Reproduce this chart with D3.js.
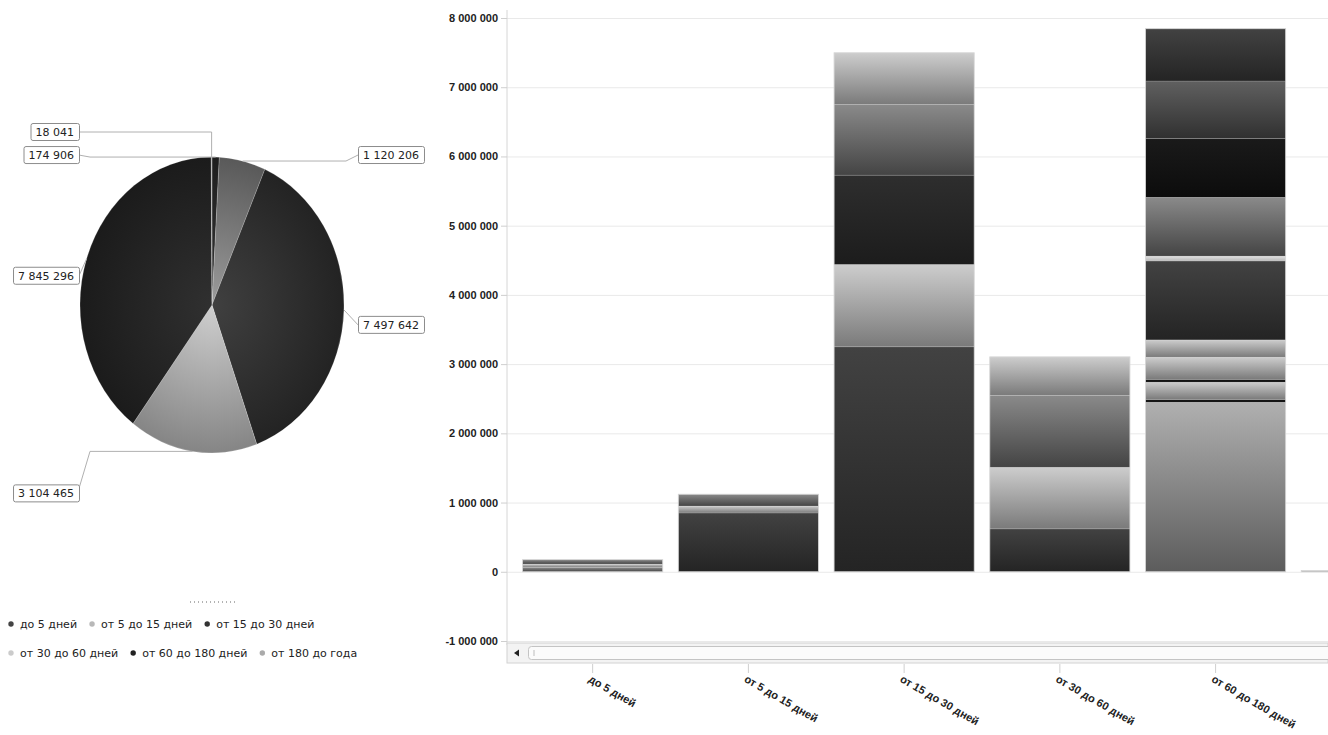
<!DOCTYPE html>
<html>
<head>
<meta charset="utf-8">
<script src="https://cdn.jsdelivr.net/npm/d3@7"></script>
<style>
  body { margin: 0; background: #fff; }
  svg { display: block; font-family: "DejaVu Sans", sans-serif; }
</style>
</head>
<body>
<svg id="chart" width="1328" height="735"></svg>
<script>
const categories = ['до 5 дней', 'от 5 до 15 дней', 'от 15 до 30 дней', 'от 30 до 60 дней', 'от 60 до 180 дней', 'от 180 до года'];
const totals = [174906, 1120206, 7497642, 3104465, 7845296, 18041];

// stacked parts of every bar, bottom to top
const barParts = [
    [62000, 50000, 62906],
    [850000, 100000, 170206],
    [3250000, 1190000, 1290000, 1020000, 747642],
    [620000, 890000, 1040000, 554465],
    [2450000, 40000, 250000, 40000, 320000, 250000, 1140000, 70000, 850000, 850000, 830000, 755296],
    [18041]
];

const yTicks = [-1000000, 0, 1000000, 2000000, 3000000, 4000000, 5000000, 6000000, 7000000, 8000000];

// shade of every part (style only)
const partTones = [
    ['mid', 'light', 'mid'],
    ['dark', 'light', 'mid'],
    ['dark', 'light', 'deep', 'mid', 'light'],
    ['dark', 'light', 'mid', 'light'],
    ['base', 'black', 'light', 'black', 'light', 'light', 'dark', 'pale', 'mid', 'black', 'mid2', 'dark'],
    ['light']
];
const tones = {
    black: ['#1a1a1a', '#0c0c0c'],
    deep: ['#2e2e2e', '#1c1c1c'],
    dark: ['#424242', '#242424'],
    mid: ['#8a8a8a', '#444'],
    mid2: ['#606060', '#303030'],
    light: ['#cdcdcd', '#7a7a7a'],
    pale: ['#e0e0e0', '#b8b8b8'],
    base: ['#b0b0b0', '#5c5c5c']
};
const sliceTones = [
    ['#353535', '#1e1e1e'],
    ['#9c9c9c', '#595959'],
    ['#404040', '#232323'],
    ['#cfcfcf', '#858585'],
    ['#303030', '#1b1b1b'],
    ['#bbbbbb', '#999999']
];
const legendColors = ['#444', '#b8b8b8', '#333', '#cbcbcb', '#222', '#aaa'];

const svg = d3.select('#chart');
const defs = svg.append('defs');

const ru = d3.formatLocale({ decimal: ',', thousands: '\u00a0', grouping: [3], currency: ['', ''], minus: '-' });
const fmt = ru.format(',d');

// ---------- bar chart ----------
const plotLeft = 507, plotRight = 1328;

const y = d3.scaleLinear()
    .domain([-1000000, 8000000])
    .range([641, 18]);

const x = d3.scaleBand()
    .domain(categories)
    .range([plotLeft, plotLeft + 950])
    .paddingInner(0.1)
    .paddingOuter(0.1);

// grid
svg.append('g')
    .attr('transform', `translate(${plotLeft},0)`)
    .call(d3.axisLeft(y).tickValues(yTicks).tickSize(-(plotRight - plotLeft)).tickFormat(''))
    .call(g => g.select('.domain').remove())
    .call(g => g.selectAll('line').attr('stroke', '#e9e9e9'));

// y axis
svg.append('g')
    .attr('transform', `translate(${plotLeft},0)`)
    .call(d3.axisLeft(y).tickValues(yTicks).tickSize(6).tickPadding(3).tickFormat(fmt))
    .call(g => g.select('.domain').attr('stroke', '#d6d6d6').attr('d', `M0,10V645`))
    .call(g => g.selectAll('line').attr('stroke', '#cfcfcf'))
    .call(g => g.selectAll('text').attr('fill', '#222').attr('font-size', 11).attr('font-weight', 'bold'));

Object.entries(tones).forEach(([k, c]) => {
    const lg = defs.append('linearGradient').attr('id', 'tone-' + k)
        .attr('x1', 0).attr('y1', 0).attr('x2', 0).attr('y2', 1);
    lg.append('stop').attr('offset', '0%').attr('stop-color', c[0]);
    lg.append('stop').attr('offset', '100%').attr('stop-color', c[1]);
});

const bars = svg.append('g');
categories.forEach((cat, i) => {
    const ends = d3.cumsum(barParts[i]);
    const g = bars.append('g');
    g.selectAll('rect')
        .data(barParts[i].map((v, j) => ({ v, top: ends[j], tone: partTones[i][j] })))
        .enter()
        .append('rect')
        .attr('x', x(cat))
        .attr('width', x.bandwidth())
        .attr('y', d => y(d.top))
        .attr('height', d => Math.max(y(d.top - d.v) - y(d.top), 0.8))
        .attr('fill', d => `url(#tone-${d.tone})`)
        .attr('stroke', 'rgba(255,255,255,0.25)')
        .attr('stroke-width', 0.6);
    g.append('rect')
        .attr('x', x(cat))
        .attr('width', x.bandwidth())
        .attr('y', y(totals[i]))
        .attr('height', y(0) - y(totals[i]))
        .attr('fill', 'none')
        .attr('stroke', '#d4d4d4')
        .attr('stroke-width', 0.8);
});

// scrollbar
const sb = svg.append('g');
sb.append('rect').attr('x', plotLeft).attr('y', 643).attr('width', plotRight - plotLeft).attr('height', 20)
    .attr('fill', '#f3f3f3').attr('stroke', '#d2d2d2');
sb.append('path').attr('d', 'M514,653 L519,649.5 L519,656.5 Z').attr('fill', '#222');
sb.append('rect').attr('x', 528.5).attr('y', 646.5).attr('width', 810).attr('height', 13).attr('rx', 3)
    .attr('fill', '#fbfbfb').attr('stroke', '#c4c4c4');
sb.append('line').attr('x1', 534).attr('x2', 534).attr('y1', 650).attr('y2', 656).attr('stroke', '#bdbdbd');

// x axis (only the ticks that fall inside the visible window)
const visibleCats = categories.filter(c => x(c) + x.bandwidth() / 2 < plotRight);
svg.append('g')
    .attr('transform', 'translate(0,664)')
    .call(d3.axisBottom(x).tickValues(visibleCats).tickSize(9).tickSizeOuter(0))
    .call(g => g.select('.domain').remove())
    .call(g => g.selectAll('line').attr('stroke', '#cfcfcf'))
    .call(g => g.selectAll('text')
        .attr('fill', '#222')
        .attr('font-size', 11)
        .attr('font-weight', 'bold')
        .attr('text-anchor', 'start')
        .attr('x', 0).attr('y', 0).attr('dy', '0.35em')
        .attr('transform', 'translate(-3,14) rotate(30)'));

// ---------- pie ----------
const cx = 212, cy = 305, rx = 132, ry = 148;

const pie = d3.pie().sort(null).value(d => d);
const arcs = pie(totals);
const arc = d3.arc().innerRadius(0).outerRadius(rx);

sliceTones.forEach((c, i) => {
    const rg = defs.append('radialGradient').attr('id', 'slice-' + i)
        .attr('gradientUnits', 'userSpaceOnUse')
        .attr('cx', 0).attr('cy', 0).attr('r', rx);
    rg.append('stop').attr('offset', '0%').attr('stop-color', c[0]);
    rg.append('stop').attr('offset', '100%').attr('stop-color', c[1]);
});

svg.append('g')
    .attr('transform', `translate(${cx},${cy}) scale(1,${ry / rx})`)
    .selectAll('path')
    .data(arcs)
    .enter()
    .append('path')
    .attr('d', arc)
    .attr('fill', (d, i) => `url(#slice-${i})`)
    .attr('stroke', 'rgba(255,255,255,0.35)')
    .attr('stroke-width', 0.5);

// labels: side, vertical shift of the box, elbow kind
const labelLayout = [
    { side: 'left', dy: -2, elbow: 'h' },
    { side: 'right', dy: -6, elbow: 'h' },
    { side: 'right', dy: 15, elbow: 'd' },
    { side: 'left', dy: 42, elbow: 'h' },
    { side: 'left', dy: 17, elbow: 'd' },
    { side: 'left', dy: -25, elbow: 'v' }
];

const labels = svg.append('g').attr('font-size', 11);
arcs.forEach((a, i) => {
    const m = (a.startAngle + a.endAngle) / 2;
    const ax = cx + rx * Math.sin(m), ay = cy - ry * Math.cos(m);
    const L = labelLayout[i];
    const by = ay + L.dy;
    const txt = fmt(a.data);
    const t = labels.append('text').attr('y', by).attr('dy', '0.35em').attr('fill', '#222').text(txt);
    const w = t.node().getComputedTextLength() + 10;
    const bx = L.side === 'right' ? cx + rx + 14 : cx - rx - 1 - w;
    t.attr('x', bx + 5);
    const edge = L.side === 'right' ? bx : bx + w;
    let pts;
    if (L.elbow === 'v') pts = [[ax, ay], [ax, by], [edge, by]];
    else if (L.elbow === 'h') {
        const ex = L.side === 'right' ? edge - 12 : edge + 11;
        pts = [[ax, ay], [ex, ay], [edge, by + (L.dy > 20 ? -5 : 0)]];
    } else pts = [[ax, ay], [edge, by]];
    labels.insert('path', 'text')
        .attr('d', d3.line()(pts))
        .attr('fill', 'none')
        .attr('stroke', '#b0b0b0')
        .attr('stroke-width', 1);
    labels.insert('rect', 'text')
        .attr('x', bx + 0.5).attr('y', by - 8.5)
        .attr('width', w).attr('height', 17).attr('rx', 2)
        .attr('fill', '#fff').attr('stroke', '#8c8c8c');
});

// ---------- legend ----------
const legend = svg.append('g').attr('font-size', 11).attr('fill', '#222');
legend.append('line').attr('x1', 190).attr('x2', 235).attr('y1', 602).attr('y2', 602)
    .attr('stroke', '#666').attr('stroke-dasharray', '1,3');
const rows = [[0, 1, 2], [3, 4, 5]];
rows.forEach((row, r) => {
    let px = 11;
    const ly = 624 + r * 29;
    row.forEach(i => {
        legend.append('circle').attr('cx', px).attr('cy', ly).attr('r', 2.7).attr('fill', legendColors[i]);
        const t = legend.append('text').attr('x', px + 9).attr('y', ly).attr('dy', '0.35em').text(categories[i]);
        px += 9 + t.node().getComputedTextLength() + 15;
    });
});
</script>
</body>
</html>
